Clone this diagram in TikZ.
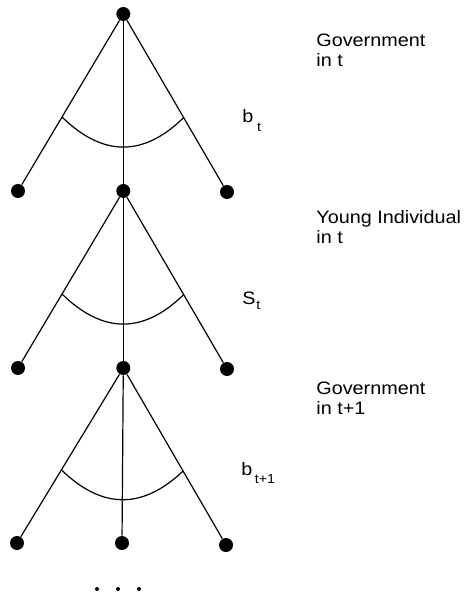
\documentclass[tikz,border=0pt]{standalone}
\usepackage{fontspec}
\setmainfont{Liberation Sans}[FakeStretch=1.1]
\usepackage{tikz}
\usetikzlibrary{calc}

\begin{document}
\begin{tikzpicture}[
    x=0.5pt, y=-0.5pt,
    vertex/.style={circle, fill, inner sep=0pt, minimum size=7pt},
    pip/.style={circle, fill, inner sep=0pt, minimum size=2pt},
    branch/.style={line width=0.6pt},
    lbl/.style={align=left, anchor=base west, inner sep=0pt, font=\fontsize{9}{10}\selectfont},
    act/.style={anchor=base west, inner sep=0pt, font=\fontsize{9}{10}\selectfont}
  ]
  \useasboundingbox (0,0) rectangle (471,592);

  \node[vertex] (gov1) at (123.3,14) {};
  \node[vertex] (gov1L) at (18,191) {};
  \node[vertex] (young) at (123.3,191) {};
  \node[vertex] (gov1R) at (227,192) {};
  \node[vertex] (youngL) at (18,368) {};
  \node[vertex] (gov2) at (123.3,368) {};
  \node[vertex] (youngR) at (227,369) {};
  \node[vertex] (gov2L) at (17,543) {};
  \node[vertex] (gov2M) at (122,543) {};
  \node[vertex] (gov2R) at (226,545) {};

  \draw[branch] (gov1) -- (gov1L);
  \draw[branch] (gov1) -- (young);
  \draw[branch] (gov1) -- (gov1R);
  \draw[branch] (young) -- (youngL);
  \draw[branch] (young) -- (gov2);
  \draw[branch] (young) -- (youngR);
  \draw[branch] (gov2) -- (gov2L);
  \draw[branch] (gov2) -- (gov2M);
  \draw[branch] (gov2) -- (gov2R);

  \coordinate (arc1L) at ($(gov1)!0.582!(gov1L)$);
  \coordinate (arc1R) at ($(gov1)!0.582!(gov1R)$);
  \coordinate (arc1Q) at ($(gov1)!0.92!(young)$);
  \coordinate (arc2L) at ($(young)!0.582!(youngL)$);
  \coordinate (arc2R) at ($(young)!0.582!(youngR)$);
  \coordinate (arc2Q) at ($(young)!0.92!(gov2)$);
  \coordinate (arc3L) at ($(gov2)!0.582!(gov2L)$);
  \coordinate (arc3R) at ($(gov2)!0.582!(gov2R)$);
  \coordinate (arc3Q) at ($(gov2)!0.92!(gov2M)$);
  \draw[branch] (arc1L) .. controls ($(arc1L)!0.667!(arc1Q)$) and ($(arc1R)!0.667!(arc1Q)$) .. (arc1R);
  \draw[branch] (arc2L) .. controls ($(arc2L)!0.667!(arc2Q)$) and ($(arc2R)!0.667!(arc2Q)$) .. (arc2R);
  \draw[branch] (arc3L) .. controls ($(arc3L)!0.667!(arc3Q)$) and ($(arc3R)!0.667!(arc3Q)$) .. (arc3R);

  \node[act] (bt) at (242,123) {b\hspace{1.8pt}\raisebox{-4.5pt}{\fontsize{6.5}{7}\selectfont t}};
  \node[act] (st) at (242,305) {S\hspace{0.4pt}\raisebox{-2pt}{\fontsize{6.5}{7}\selectfont t}};
  \node[act] (bt1) at (241,475) {b\hspace{1.2pt}\raisebox{-4pt}{\fontsize{6.5}{7}\selectfont t+1}};

  \node[lbl] (govLbl1) at (316,67) {Government\\in t};
  \node[lbl] (youngLbl) at (316,244) {Young Individual\\in t};
  \node[lbl] (govLbl2) at (316,414) {Government\\in t+1};

  \node[pip] (more1) at (97,589) {};
  \node[pip] (more2) at (118,589) {};
  \node[pip] (more3) at (139,589) {};
\end{tikzpicture}
\end{document}
